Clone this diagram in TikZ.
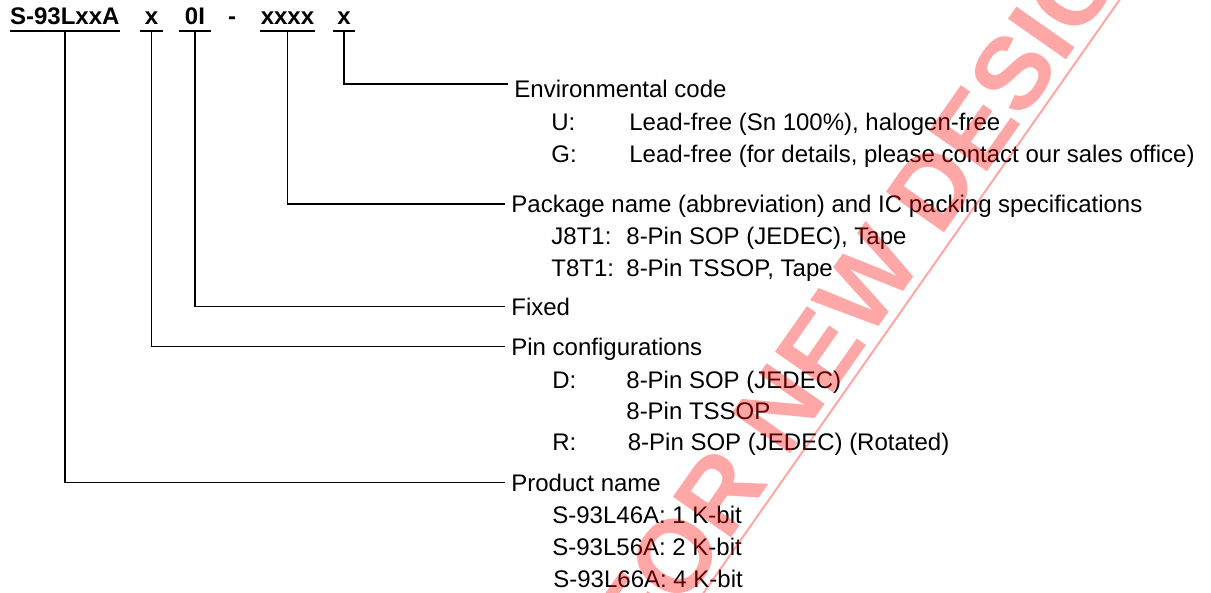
\documentclass[tikz,border=0pt]{standalone}
\usepackage{fontspec}
\setmainfont{Liberation Sans}
\usetikzlibrary{positioning}
\newcommand{\partsize}{\fontsize{12pt}{14pt}\selectfont}
\tikzset{
  codepart/.style={
    font=\partsize\bfseries,
    anchor=base,
    inner xsep=0pt,
    inner ysep=3pt,
    text height=8.6pt,
    text depth=0pt
  },
  heading/.style={
    font=\partsize,
    anchor=base west,
    inner xsep=3pt,
    inner ysep=0pt,
    text height=8.6pt,
    text depth=0pt
  },
  item/.style={
    font=\partsize,
    anchor=base west,
    inner sep=0pt
  },
  leader/.style={draw, line width=0.7pt},
  underbar/.style={draw, line width=0.9pt},
  watermark/.style={
    text=red, text opacity=0.35,
    font=\bfseries\fontsize{51.5pt}{60pt}\selectfont,
    inner sep=0pt
  },
  wmline/.style={draw=red, draw opacity=0.35, line width=1pt}
}
\begin{document}
\begin{tikzpicture}[x=0.5pt, y=-0.5pt]
  \path[fill=white, use as bounding box] (0,0) rectangle (1211,593);

  \node[codepart, minimum width=54pt] (pn) at (64.8,25) {S-93LxxA};
  \node[codepart, minimum width=11.5pt] (pc) at (151.5,25) {x};
  \node[codepart, minimum width=16pt] (fx) at (195,25) {0I};
  \node[codepart] (dash) at (232,25) {-};
  \node[codepart, minimum width=25.5pt] (pk) at (287.5,25) {xxxx};
  \node[codepart, minimum width=11pt] (ec) at (344,25) {x};
  \foreach \n in {pn,pc,fx,pk,ec}
    \draw[underbar] (\n.south west) -- (\n.south east);

  \node[heading] (envhead) at (508,98) {Environmental code};
  \node[item] (ucode) at (551,131) {U:};
  \node[item] (udesc) at (629,131) {Lead-free (Sn 100\%), halogen-free};
  \node[item] (gcode) at (551,163) {G:};
  \node[item] (gdesc) at (629,163) {Lead-free (for details, please contact our sales office)};

  \node[heading] (pkghead) at (505,212.6) {Package name (abbreviation) and IC packing specifications};
  \node[item] (j8code) at (551,245) {J8T1:};
  \node[item] (j8desc) at (626,245) {8-Pin SOP (JEDEC), Tape};
  \node[item] (t8code) at (551,277) {T8T1:};
  \node[item] (t8desc) at (626,277) {8-Pin TSSOP, Tape};

  \node[heading] (fixhead) at (505,315.3) {Fixed};

  \node[heading] (pinhead) at (505,355.3) {Pin configurations};
  \node[item] (dcode) at (552,388) {D:};
  \node[item] (ddesc) at (626,388) {8-Pin SOP (JEDEC)};
  \node[item] (ddesc2) at (626,419.5) {8-Pin TSSOP};
  \node[item] (rcode) at (552,451) {R:};
  \node[item] (rdesc) at (627.5,451) {8-Pin SOP (JEDEC) (Rotated)};

  \node[heading] (prodhead) at (505,491.3) {Product name};
  \node[item] (p46) at (552,523.5) {S-93L46A: 1 K-bit};
  \node[item] (p56) at (552,555.5) {S-93L56A: 2 K-bit};
  \node[item] (p66) at (553,587) {S-93L66A: 4 K-bit};

  \draw[leader] (ec.south) |- ([yshift=2.7pt]envhead.west);
  \draw[leader] (pk.south) |- (pkghead.west);
  \draw[leader] (fx.south) |- (fixhead.west);
  \draw[leader] (pc.south) |- (pinhead.west);
  \draw[leader] (pn.south) |- (prodhead.west);

  % watermark
  \coordinate (wma) at (1137,-25);
  \coordinate (wmb) at (686,618);
  \draw[wmline] (wma) -- (wmb);
  \node[watermark, rotate=55, anchor=base east] (wm) at (1167.4,-85.1) {NOT RECOMMENDED FOR NEW DESIGN};
\end{tikzpicture}
\end{document}
